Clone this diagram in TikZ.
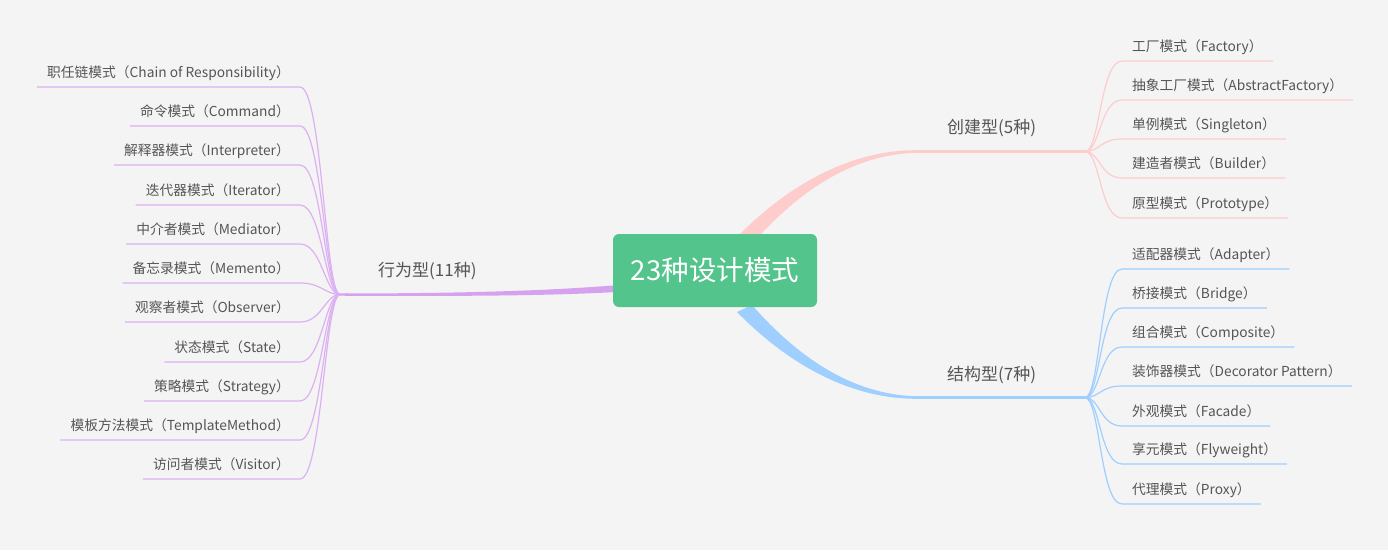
\documentclass[tikz,border=0pt]{standalone}
\usepackage{fontspec}
\newfontfamily\cjk{Noto Sans CJK SC}
\usetikzlibrary{backgrounds,calc}
\definecolor{bg}{HTML}{F4F4F4}
\definecolor{cgreen}{HTML}{52C48C}
\definecolor{cpink}{HTML}{FFCCCC}
\definecolor{cblue}{HTML}{9FCFFF}
\definecolor{cpurple}{HTML}{D6A2F0}
\definecolor{ctext}{HTML}{555555}
\tikzset{
  leaf/.style={font=\cjk\fontsize{13.75}{16}\selectfont, text=ctext, inner xsep=10pt, inner ysep=0pt, text height=10pt, text depth=9pt},
  rleaf/.style={leaf, anchor=south west},
  lleaf/.style={leaf, anchor=south east},
  branchlabel/.style={font=\cjk\fontsize{17}{20}\selectfont, text=ctext, inner sep=0pt, anchor=base west},
  root/.style={fill=cgreen, rounded corners=6pt, minimum width=204pt, minimum height=73pt, text=white, font=\cjk\fontsize{27.5}{32}\selectfont, inner sep=0pt},
  pinkleaf/.style={draw=cpink, line width=1.2pt},
  blueleaf/.style={draw=cblue, line width=1.2pt},
  purpleleaf/.style={draw=cpurple!85, line width=1.2pt},
}
\begin{document}
\begin{tikzpicture}[x=1pt, y=-1pt]
\useasboundingbox (0,0) rectangle (1388,550);
\coordinate (J1) at (1085,151.5);
\coordinate (J2) at (1085,397.5);
\coordinate (J3) at (340,294.5);

\node[root] (c) at (715,270.5) {23种设计模式};

\begin{pgfonlayer}{background}
  \fill[bg] (0,0) rectangle (1388,550);
  % pink branch
  \fill[cpink] (737,237) .. controls (788,185) and (850,150) .. (917,150.2) -- (917,152.8) .. controls (850,154) and (795,195) .. (752,244) -- cycle;
  \draw[cpink, line width=2.6pt] (916,151.5) -- (J1);
  % blue branch
  \fill[cblue] (737,312) .. controls (788,364) and (850,399) .. (917,398.8) -- (917,396.2) .. controls (850,395) and (795,354) .. (752,305) -- cycle;
  \draw[cblue, line width=2.6pt] (916,397.5) -- (J2);
  % purple branch
  \fill[cpurple] (625,284.5) .. controls (560,290) and (480,293.3) .. (345,293.5) -- (345,295.8) .. controls (480,296.3) and (560,295.5) .. (625,291.5) -- cycle;
  \draw[cpurple, line width=2.2pt] (350,294.6) -- (J3);
\end{pgfonlayer}

\node[branchlabel] (l1) at (947,133.5) {创建型(5种)};
\node[branchlabel] (l2) at (947,380.5) {结构型(7种)};
\node[branchlabel] (l3) at (378,276.5) {行为型(11种)};

% creational
\node[rleaf] (p1) at (1122,61) {工厂模式（Factory）};
\node[rleaf] (p2) at (1122,100) {抽象工厂模式（AbstractFactory）};
\node[rleaf] (p3) at (1122,139) {单例模式（Singleton）};
\node[rleaf] (p4) at (1122,178) {建造者模式（Builder）};
\node[rleaf] (p5) at (1122,218) {原型模式（Prototype）};
\foreach \n in {p1,p2,p3,p4,p5}
  \draw[pinkleaf] (J1) .. controls +(15,0) and +(-22,0) .. (\n.south west) -- (\n.south east);

% structural
\node[rleaf] (s1) at (1122,269) {适配器模式（Adapter）};
\node[rleaf] (s2) at (1122,308) {桥接模式（Bridge）};
\node[rleaf] (s3) at (1122,347) {组合模式（Composite）};
\node[rleaf] (s4) at (1122,386) {装饰器模式（Decorator Pattern）};
\node[rleaf] (s5) at (1122,426) {外观模式（Facade）};
\node[rleaf] (s6) at (1122,464) {享元模式（Flyweight）};
\node[rleaf] (s7) at (1122,504) {代理模式（Proxy）};
\foreach \n in {s1,s2,s3,s4,s5,s6,s7}
  \draw[blueleaf] (J2) .. controls +(15,0) and +(-22,0) .. (\n.south west) -- (\n.south east);

% behavioral
\node[lleaf] (b1) at (300,87) {职任链模式（Chain of Responsibility）};
\node[lleaf] (b2) at (300,126) {命令模式（Command）};
\node[lleaf] (b3) at (300,165) {解释器模式（Interpreter）};
\node[lleaf] (b4) at (300,205) {迭代器模式（Iterator）};
\node[lleaf] (b5) at (300,244) {中介者模式（Mediator）};
\node[lleaf] (b6) at (300,283) {备忘录模式（Memento）};
\node[lleaf] (b7) at (300,322) {观察者模式（Observer）};
\node[lleaf] (b8) at (300,362) {状态模式（State）};
\node[lleaf] (b9) at (300,401) {策略模式（Strategy）};
\node[lleaf] (b10) at (300,440) {模板方法模式（TemplateMethod）};
\node[lleaf] (b11) at (300,479) {访问者模式（Visitor）};
\foreach \n in {b1,b2,b3,b4,b5,b6,b7,b8,b9,b10,b11}
  \draw[purpleleaf] (J3) .. controls +(-15,0) and +(22,0) .. (\n.south east) -- (\n.south west);
\end{tikzpicture}
\end{document}
